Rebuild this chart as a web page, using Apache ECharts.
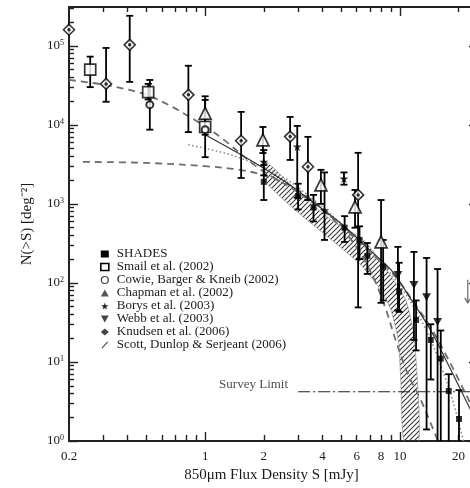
<!DOCTYPE html>
<html>
<head>
<meta charset="utf-8">
<script src="https://cdn.jsdelivr.net/npm/echarts@6/dist/echarts.min.js"></script>
<style>
  html, body { margin: 0; padding: 0; background: #fff; overflow: hidden; }
  #chart { width: 470px; height: 488px; }
</style>
</head>
<body>
<div id="chart"></div>
<script>
// ---- axis ticks and labels ----
const xLabelValues = [0.2, 1, 2, 4, 6, 8, 10, 20];
const xMajorTicks = [1, 10];
const xMinorTicks = [0.3, 0.4, 0.5, 0.6, 0.7, 0.8, 0.9, 2, 3, 4, 5, 6, 7, 8, 9, 20];
const yMajorTicks = [1, 10, 100, 1000, 10000, 100000];
const yMinorTicks = [2, 3, 4, 5, 6, 7, 8, 9,
  20, 30, 40, 50, 60, 70, 80, 90,
  200, 300, 400, 500, 600, 700, 800, 900,
  2000, 3000, 4000, 5000, 6000, 7000, 8000, 9000,
  20000, 30000, 40000, 50000, 60000, 70000, 80000, 90000,
  200000, 300000];

// ---- measurements: [S (mJy), N(>S), lower, upper] ----
const shades = [
  [2.0, 1900, 1120, 3100],
  [3.0, 1250, 850, 1800],
  [3.6, 900, 600, 1300],
  [5.2, 500, 330, 700],
  [6.2, 350, 200, 520],
  [6.8, 220, 130, 320],
  [8.2, 160, 60, 350],
  [9.9, 78, 43, 180],
  [12.1, 34, 14, 60],
  [14.4, 19, 6, 30],
  [16.2, 11, 0.5, 25],
  [17.8, 4.3, 0.5, 7],
  [20.1, 1.9, 0.5, 4.4]
];
const smail = [
  [0.257, 50000, 30000, 73000],
  [0.51, 26000, 21000, 33000],
  [1.0, 9400, 7500, 12000]
];
const cowie = [
  [0.52, 18000, 8700, 37000],
  [1.0, 8700, 3900, 23000]
];
const chapman = [
  [1.0, 14000, 8700, 20700],
  [1.98, 6450, 4400, 9400],
  [3.93, 1740, 1000, 2700],
  [5.88, 915, 500, 1500],
  [8.0, 330, 56, 1120]
];
const borys = [
  [2.0, 3400, 2300, 4800],
  [2.97, 5300, 1200, 9700],
  [4.1, 830, 350, 2500],
  [5.16, 2090, 1750, 2500]
];
const webb = [
  [9.76, 126, 45, 286],
  [11.8, 94, 19, 247],
  [13.7, 66, 1.4, 207],
  [15.6, 32, 0.5, 150]
];
const knudsen = [
  [0.2, 160000, 160000, 160000],
  [0.31, 33000, 19600, 94000],
  [0.41, 103000, 35000, 240000],
  [0.82, 24000, 8100, 56000],
  [1.53, 6300, 2130, 14600],
  [2.73, 7100, 3600, 12600],
  [3.37, 2950, 1120, 7050],
  [6.1, 1300, 49, 4430]
];
// upper limit: [S, from N, to N]
const upperLimits = [[22.3, 110, 56]];

// ---- Scott, Dunlop & Serjeant (2006) band edges ----
const bandUpperS = [2.05, 3.1, 4.59, 6.5, 8.7, 10.7, 11.7, 12.2, 12.5];
const bandUpperN = [3400, 1300, 590, 350, 138, 61, 25, 7.9, 1];
const bandLowerS = [2.05, 3.1, 4.59, 6.3, 8.0, 9.0, 9.8, 10.1, 10.5];
const bandLowerN = [1900, 727, 330, 169, 81, 45, 19, 5.9, 1];

// ---- model curves ----
const dashedUpperS = [0.2, 0.33, 0.53, 0.92, 1.25, 1.87, 3.0, 4.6, 6.8, 9, 11.5, 14.4, 18, 23];
const dashedUpperN = [37000, 31000, 22600, 10900, 6460, 2860, 1400, 640, 260, 140, 62, 27, 10, 3];
const dashedLowerS = [0.236, 0.5, 1.0, 1.5, 2.0, 3.0, 4.6, 6.0, 7.4, 8.5, 9.5, 11, 12.8, 14.5, 15.7];
const dashedLowerN = [3400, 3300, 3000, 2700, 2300, 1500, 620, 280, 109, 45, 19, 7, 3.3, 1.6, 1];
const dottedS = [0.82, 1.3, 1.87, 2.5, 3.5, 5, 7, 9, 11, 13, 15, 16.5, 18.5, 21.2];
const dottedN = [5600, 4300, 3100, 2200, 1200, 560, 250, 130, 65, 32, 15, 8, 3.5, 1];
const solidS = [1.0, 1.7, 2.5, 3.5, 5, 7, 9, 11.5, 14.4, 18, 23];
const solidN = [7500, 3600, 2000, 1100, 560, 260, 146, 60, 25, 8.5, 2.5];

const surveyLimitS = [3.0, 24];
const surveyLimitN = 4.2;

// ---- helpers ----
const FONT = '"Liberation Serif", "Times New Roman", serif';
const INK = '#1a1a1a';
const zip = (a, b) => a.map((v, i) => [v, b[i]]);

const STAR = 'path://M50,0 L61,35 L98,35 L68,57 L79,91 L50,70 L21,91 L32,57 L2,35 L39,35 Z';
const DOWN_TRI = 'path://M0,0 L10,0 L5,9 Z';
const SLASH = 'path://M0,10 L9,0 L10,1.2 L1,11.2 Z';

const hatch = document.createElement('canvas');
hatch.width = 5; hatch.height = 5;
(function () {
  const g = hatch.getContext('2d');
  g.strokeStyle = '#3a3a3a';
  g.lineWidth = 1.1;
  g.beginPath();
  g.moveTo(0, 5); g.lineTo(5, 0);
  g.moveTo(-1, 1); g.lineTo(1, -1);
  g.moveTo(4, 6); g.lineTo(6, 4);
  g.stroke();
})();

function errorBarRender(params, api) {
  const s = api.value(0);
  const lo = Math.max(api.value(2), 0.3);
  const hi = api.value(3);
  if (hi === lo) return null;
  const p1 = api.coord([s, hi]);
  const p2 = api.coord([s, lo]);
  const w = 3.5;
  const st = { stroke: '#000', lineWidth: 1.8 };
  return {
    type: 'group',
    children: [
      { type: 'line', shape: { x1: p1[0], y1: p1[1], x2: p2[0], y2: p2[1] }, style: st },
      { type: 'line', shape: { x1: p1[0] - w, y1: p1[1], x2: p1[0] + w, y2: p1[1] }, style: st },
      { type: 'line', shape: { x1: p2[0] - w, y1: p2[1], x2: p2[0] + w, y2: p2[1] }, style: st }
    ]
  };
}

function bandRender(params, api) {
  if (params.dataIndex !== 0) return null;
  const pts = [];
  for (let i = 0; i < bandUpperS.length; i++) pts.push(api.coord([bandUpperS[i], bandUpperN[i]]));
  for (let i = bandLowerS.length - 1; i >= 0; i--) pts.push(api.coord([bandLowerS[i], bandLowerN[i]]));
  return {
    type: 'polygon',
    shape: { points: pts, smooth: 0.2 },
    style: { fill: { image: hatch, repeat: 'repeat' }, stroke: '#8a8a8a', lineWidth: 0.6 }
  };
}

function limitRender(params, api) {
  const s = api.value(0);
  const a = api.coord([s, api.value(1)]);
  const b = api.coord([s, api.value(2)]);
  const st = { stroke: '#666', lineWidth: 1.2, fill: null };
  return {
    type: 'group',
    children: [
      { type: 'line', shape: { x1: a[0], y1: a[1], x2: b[0], y2: b[1] }, style: st },
      { type: 'polyline', shape: { points: [[b[0] - 3, b[1] - 5], [b[0], b[1]], [b[0] + 3, b[1] - 5]] }, style: st }
    ]
  };
}

function errSeries(name, data) {
  return {
    name, type: 'custom', renderItem: errorBarRender, data,
    encode: { x: 0, y: 1 }, clip: true, z: 3, silent: true
  };
}
function markSeries(name, data, symbol, size, style, extra) {
  return Object.assign({
    name, type: 'scatter', data: data.map(d => [d[0], d[1]]),
    symbol, symbolSize: size, itemStyle: style, z: 5, clip: false, silent: true
  }, extra || {});
}
function curve(s, n, style) {
  return {
    type: 'line', data: zip(s, n), showSymbol: false, symbol: 'none', smooth: 0.35,
    lineStyle: style, z: 2, silent: true
  };
}

const logX = (extra) => Object.assign({
  type: 'log', logBase: 10, min: 0.2, max: 24, gridIndex: 0,
  splitLine: { show: false }, minorTick: { show: false }, minorSplitLine: { show: false },
  axisLine: { show: false, onZero: false },
  axisLabel: { show: false }
}, extra);
const logY = (extra) => Object.assign({
  type: 'log', logBase: 10, min: 1, max: 310000, gridIndex: 0,
  splitLine: { show: false }, minorTick: { show: false }, minorSplitLine: { show: false },
  axisLine: { show: false, onZero: false },
  axisLabel: { show: false }
}, extra);
const frame = { show: true, onZero: false, lineStyle: { color: '#222', width: 2 } };
const tick = (vals, len) => ({ show: true, inside: true, length: len, customValues: vals, lineStyle: { color: '#222', width: 1.4 } });

const chart = echarts.init(document.getElementById('chart'));
chart.setOption({
  animation: false,
  backgroundColor: '#fff',
  grid: { left: 69, top: 7, width: 405, bottom: 47, outerBoundsMode: 'none', containLabel: false },
  xAxis: [
    logX({
      position: 'bottom', axisLine: frame, axisTick: tick(xMajorTicks, 9),
      axisLabel: {
        show: true, customValues: xLabelValues, margin: 9, formatter: v => String(v),
        fontFamily: FONT, fontSize: 13, color: INK
      },
      name: '850\u03bcm Flux Density S [mJy]', nameLocation: 'middle', nameGap: 26,
      nameTextStyle: { fontFamily: FONT, fontSize: 15, color: INK }
    }),
    logX({ position: 'bottom', axisTick: tick(xMinorTicks, 6) }),
    logX({ position: 'top', axisLine: frame, axisTick: tick(xMajorTicks, 9) }),
    logX({ position: 'top', axisTick: tick(xMinorTicks, 5) })
  ],
  yAxis: [
    logY({
      position: 'left', axisLine: frame, axisTick: tick(yMajorTicks, 9),
      axisLabel: {
        show: true, customValues: yMajorTicks, margin: 5,
        formatter: v => '{b|10}{s|' + Math.round(Math.log10(v)) + '}',
        rich: {
          b: { fontFamily: FONT, fontSize: 13, color: INK, lineHeight: 14 },
          s: { fontFamily: FONT, fontSize: 8, color: INK, verticalAlign: 'top', lineHeight: 14 }
        }
      },
      name: 'N(>S) [deg\u207b\u00b2]', nameLocation: 'middle', nameGap: 34,
      nameTextStyle: { fontFamily: FONT, fontSize: 15, color: INK }
    }),
    logY({ position: 'left', axisTick: tick(yMinorTicks, 5) }),
    logY({ position: 'right', axisLine: frame, axisTick: tick(yMajorTicks, 5) })
  ],
  legend: {
    orient: 'vertical', left: 95, top: 242.5,
    itemWidth: 8, itemHeight: 7, itemGap: 0,
    selectedMode: false,
    textStyle: { fontFamily: FONT, fontSize: 13, color: INK, lineHeight: 12.9, padding: [0, 0, 0, 3] },
    data: [
      { name: 'SHADES', icon: 'rect', itemStyle: { color: '#000' } },
      { name: 'Smail et al. (2002)', icon: 'rect', itemStyle: { color: '#fff', borderColor: '#000', borderWidth: 1.6 } },
      { name: 'Cowie, Barger & Kneib (2002)', icon: 'circle', itemStyle: { color: '#fff', borderColor: '#444', borderWidth: 1.2 } },
      { name: 'Chapman et al. (2002)', icon: 'triangle', itemStyle: { color: '#555', borderWidth: 0 } },
      { name: 'Borys et al. (2003)', icon: STAR, itemStyle: { color: '#222', borderWidth: 0 } },
      { name: 'Webb et al. (2003)', icon: DOWN_TRI, itemStyle: { color: '#444', borderWidth: 0 } },
      { name: 'Knudsen et al. (2006)', icon: 'diamond', itemStyle: { color: '#444', borderWidth: 0 } },
      { name: 'Scott, Dunlop & Serjeant (2006)', icon: SLASH, itemStyle: { color: '#333', borderWidth: 0 } }
    ]
  },
  series: [
    {
      name: 'Scott, Dunlop & Serjeant (2006)', type: 'custom', renderItem: bandRender,
      data: zip(bandUpperS, bandUpperN), encode: { x: 0, y: 1 }, clip: true, z: 1, silent: true
    },
    curve(dashedUpperS, dashedUpperN, { color: '#6e6e6e', width: 1.8, type: [7, 5] }),
    curve(dashedLowerS, dashedLowerN, { color: '#6e6e6e', width: 1.8, type: [7, 5] }),
    curve(dottedS, dottedN, { color: '#8a8a8a', width: 1.6, type: [1.5, 2.5] }),
    curve(solidS, solidN, { color: '#333', width: 1.2 }),
    {
      type: 'line', data: surveyLimitS.map(s => [s, surveyLimitN]), showSymbol: false, symbol: 'none',
      lineStyle: { color: '#222', width: 1.2, type: [12, 3, 2, 3] }, z: 2, silent: true
    },
    {
      type: 'scatter', data: [[surveyLimitS[0], surveyLimitN]], symbolSize: 0, silent: true,
      label: {
        show: true, position: 'left', distance: 10, offset: [0, -7], formatter: 'Survey Limit',
        fontFamily: FONT, fontSize: 13, color: INK
      }
    },
    { type: 'custom', renderItem: limitRender, data: upperLimits, encode: { x: 0, y: 1 }, z: 3, silent: true },

    errSeries('Smail et al. (2002)', smail),
    errSeries('Cowie, Barger & Kneib (2002)', cowie),
    errSeries('Chapman et al. (2002)', chapman),
    errSeries('Borys et al. (2003)', borys),
    errSeries('Webb et al. (2003)', webb),
    errSeries('Knudsen et al. (2006)', knudsen),
    errSeries('SHADES', shades),

    markSeries('Smail et al. (2002)', smail, 'rect', 11, { color: '#fff', borderColor: '#000', borderWidth: 1.7 }),
    markSeries('Cowie, Barger & Kneib (2002)', cowie, 'circle', 7, { color: '#fff', borderColor: '#000', borderWidth: 2 }),
    markSeries('Chapman et al. (2002)', chapman, 'triangle', 12, { color: '#fff', borderColor: '#000', borderWidth: 1.7 }),
    markSeries('Knudsen et al. (2006)', knudsen, 'diamond', 11, { color: '#fff', borderColor: '#000', borderWidth: 1.6 }),
    markSeries('Knudsen et al. (2006)', knudsen, 'circle', 3.5, { color: '#000' }),
    markSeries('Borys et al. (2003)', borys, STAR, 9, { color: '#000' }),
    markSeries('Webb et al. (2003)', webb, DOWN_TRI, [9, 8], { color: '#000' }),
    markSeries('SHADES', shades, 'rect', 6, { color: '#000' })
  ]
});
</script>
</body>
</html>
